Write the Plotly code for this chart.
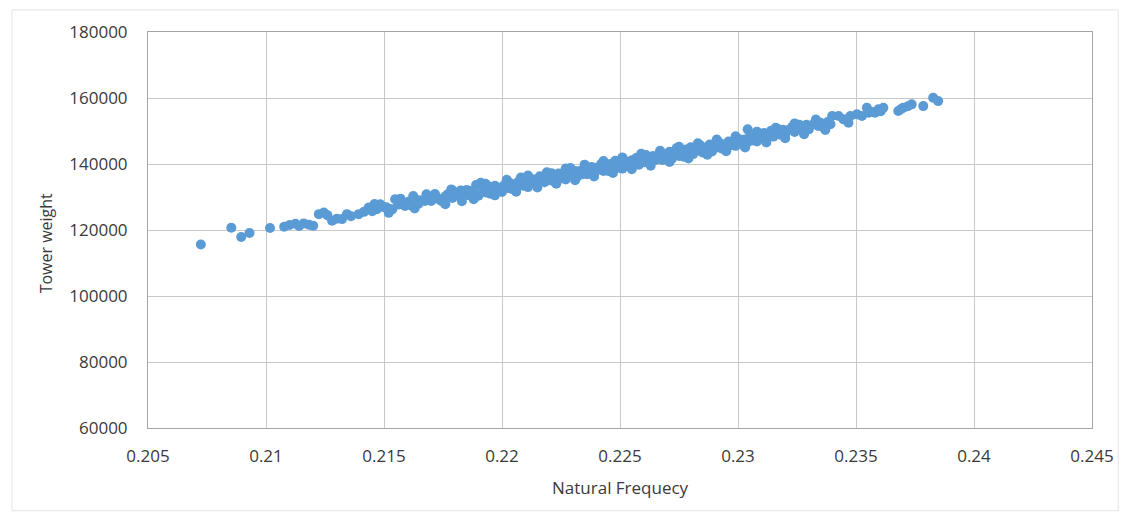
import plotly.graph_objects as go

# Natural frequency (x) and tower weight (y)
freq_left = [0.20724, 0.20853, 0.20895, 0.20930, 0.21017, 0.21077, 0.21100, 0.21125, 0.21140, 0.21160,
             0.21182, 0.21200, 0.21224, 0.21245, 0.21260, 0.21280, 0.21300, 0.21322, 0.21343, 0.21360,
             0.21393, 0.21415, 0.21435, 0.21450, 0.21470, 0.21484, 0.21500, 0.21526, 0.21547, 0.21560,
             0.21575, 0.21589, 0.21605, 0.21624, 0.21645, 0.21660, 0.21673, 0.21690, 0.21716, 0.21730,
             0.21743, 0.21760, 0.21785, 0.21800, 0.21815, 0.21830, 0.21845,
             0.21510, 0.21535, 0.21595, 0.21615, 0.21650, 0.21700, 0.21720, 0.21750, 0.21770, 0.21790,
             0.21810, 0.21825, 0.21850, 0.21860]
weight_left = [115600, 120700, 117900, 119100, 120600, 121000, 121500, 121900, 121200, 122000,
               121600, 121300, 124800, 125300, 124500, 122800, 123400, 123300, 124800, 124200,
               124800, 125500, 126800, 125700, 126300, 127800, 126900, 126400, 129300, 127700,
               128200, 127300, 128600, 130300, 127900, 128900, 128800, 129600, 130900, 129400,
               128800, 130200, 132300, 131000, 130600, 131800, 131300,
               126900, 126200, 127900, 127400, 129000, 128800, 130000, 129400, 130800, 129700,
               131000, 132000, 132100, 130500]

freq_mid1 = [0.2186, 0.2187, 0.2188, 0.2189, 0.2190, 0.2191, 0.2192, 0.2193, 0.2194, 0.2195,
             0.2196, 0.2197, 0.2198, 0.2199, 0.2200, 0.2201, 0.2202, 0.2203, 0.2204, 0.2205,
             0.2206, 0.2207, 0.2208, 0.2209, 0.2210, 0.2211, 0.2212, 0.2213, 0.2214, 0.2215,
             0.2216, 0.2217, 0.2218, 0.2219, 0.2220, 0.2221, 0.2222, 0.2223, 0.2224, 0.2225,
             0.2226, 0.2227, 0.2228, 0.2229, 0.2230, 0.2231, 0.2232, 0.2233, 0.2234, 0.2235]
weight_mid1 = [131900, 130500, 131500, 133600, 130400, 134300, 132400, 131400, 133400, 131000,
               132600, 133400, 131700, 132800, 131500, 133600, 132700, 134400, 132500, 133900,
               132400, 134700, 135900, 133400, 134700, 133000, 135600, 134300, 135300, 133900,
               136300, 135200, 134500, 136100, 135100, 137200, 134700, 136300, 137100, 135600,
               136800, 135300, 137900, 138800, 136500, 137900, 136200, 137900, 136900, 138900]

freq_mid2 = [0.2236, 0.2237, 0.2238, 0.2239, 0.2240, 0.2241, 0.2242, 0.2243, 0.2244, 0.2245,
             0.2246, 0.2247, 0.2248, 0.2249, 0.2250, 0.2251, 0.2252, 0.2253, 0.2254, 0.2255,
             0.2256, 0.2257, 0.2258, 0.2259, 0.2260, 0.2261, 0.2262, 0.2263, 0.2264, 0.2265,
             0.2266, 0.2267, 0.2268, 0.2269, 0.2270, 0.2271, 0.2272, 0.2273, 0.2274, 0.2275,
             0.2276, 0.2277, 0.2278, 0.2279, 0.2280, 0.2281, 0.2282, 0.2283, 0.2284, 0.2285,
             0.2286, 0.2287, 0.2288, 0.2289, 0.2290, 0.2291, 0.2292, 0.2293, 0.2294, 0.2295,
             0.2296, 0.2297, 0.2298, 0.2299, 0.2300]
weight_mid2 = [136900, 138200, 139100, 136900, 138900, 138300, 140000, 137900, 139100, 137900,
               140000, 138900, 141000, 138900, 140100, 138600, 141000, 140100, 139300, 141100,
               140200, 141900, 139800, 141400, 140500, 142700, 141100, 140300, 142400, 141200,
               142200, 143700, 141200, 142900, 142100, 143700, 141600, 143200, 144800, 142400,
               143400, 142200, 144400, 143200, 145100, 143000, 144600, 144100, 145700, 143500,
               144900, 144100, 145900, 143800, 145700, 145000, 146500, 144700, 145900, 144800,
               146800, 145700, 146700, 145500, 146800]

freq_right = [0.2301, 0.2302, 0.23041, 0.2303, 0.2304, 0.2305, 0.2306, 0.2307, 0.2308, 0.2309,
              0.2310, 0.2311, 0.2312, 0.2313, 0.2314, 0.2315, 0.2316, 0.2317, 0.2318, 0.2319,
              0.2320, 0.2321, 0.2323, 0.2324, 0.2325, 0.2326, 0.2327, 0.2329, 0.2330, 0.2332,
              0.2334, 0.2335, 0.2336, 0.2338,
              0.23392, 0.23399, 0.23426, 0.23447, 0.23468, 0.23476, 0.23504, 0.23525, 0.23546, 0.23553,
              0.23565, 0.23581, 0.23595, 0.23605, 0.23616, 0.23679, 0.23690, 0.23700, 0.23720, 0.23736,
              0.23785, 0.23827, 0.23848]
weight_right = [147400, 146000, 150500, 147400, 146500, 148200, 147100, 148100, 146800, 148600,
                147900, 149400, 147700, 149100, 150100, 148300, 149300, 150500, 148900, 150400,
                149000, 150200, 151300, 149700, 151000, 151900, 150400, 151900, 150500, 152100,
                151500, 152500, 151200, 152700,
                152040, 154530, 154530, 153530, 152510, 154530, 155040, 154530, 157040, 155530,
                155800, 155530, 156560, 156000, 157040, 156040, 156600, 157040, 157500, 158070,
                157550, 160060, 159060]

# points on the upper and lower fringes of the band
freq_edges = [0.2146, 0.2152, 0.2157, 0.2163, 0.2168, 0.2176, 0.2179, 0.2183,
              0.2188, 0.2193, 0.2197, 0.2202, 0.2206, 0.2211, 0.2215, 0.2219, 0.2223, 0.2227,
              0.2231, 0.2235, 0.2239, 0.2243, 0.2247, 0.2251, 0.2255, 0.2259, 0.2263, 0.2267,
              0.2271, 0.2275, 0.2279, 0.2283, 0.2287, 0.2291, 0.2295, 0.2299, 0.2303, 0.2308,
              0.2312, 0.2316, 0.2320, 0.2324, 0.2328, 0.2333, 0.2337]
weight_edges = [127900, 125200, 129500, 126500, 130800, 127800, 132000, 128700,
                129300, 134000, 130500, 135200, 131600, 136500, 132900, 137500, 134000, 138600,
                135100, 139800, 136200, 140900, 137300, 142000, 138400, 143100, 139500, 144000,
                140600, 145200, 141700, 146300, 142800, 147400, 143900, 148400, 145000, 149800,
                146500, 151000, 147800, 152300, 149000, 153500, 150300]

freq = freq_left + freq_mid1 + freq_mid2 + freq_right + freq_edges
weight = weight_left + weight_mid1 + weight_mid2 + weight_right + weight_edges

x_ticks = [0.205, 0.21, 0.215, 0.22, 0.225, 0.23, 0.235, 0.24, 0.245]
x_tick_labels = ["0.205", "0.21", "0.215", "0.22", "0.225", "0.23", "0.235", "0.24", "0.245"]
y_ticks = [60000, 80000, 100000, 120000, 140000, 160000, 180000]
y_tick_labels = ["60000", "80000", "100000", "120000", "140000", "160000", "180000"]

FONT = "Open Sans"
TXT = "#3A3A3A"
GRID = "#C8C8C8"

# page body has an 8px margin: figure coords = screen coords - 8
W, H = 1118, 504
L, R, T, B = 140, 1090.6, 22.7, 420
PW, PH = R - L, B - T

fig = go.Figure()
fig.add_trace(go.Scatter(
    x=freq, y=weight, mode="markers",
    marker=dict(size=10, color="#5B9BD5", line=dict(width=0)),
    showlegend=False, hoverinfo="x+y",
))

fig.update_layout(
    width=W, height=H,
    margin=dict(l=L, r=W - R, t=T, b=H - B),
    paper_bgcolor="white", plot_bgcolor="white",
    font=dict(family=FONT, size=17, color=TXT),
    xaxis=dict(
        range=[0.205, 0.245], tickvals=x_ticks, ticktext=x_tick_labels,
        showgrid=True, gridcolor=GRID, gridwidth=1,
        showline=True, linecolor="#A6A6A6", linewidth=1, mirror=True,
        zeroline=False, ticks="outside", ticklen=13, tickcolor="rgba(0,0,0,0)",
        tickfont=dict(family=FONT, size=17, color=TXT),
    ),
    yaxis=dict(
        range=[60000, 180000], tickvals=y_ticks, ticktext=y_tick_labels,
        showgrid=True, gridcolor=GRID, gridwidth=1,
        showline=True, linecolor="#A6A6A6", linewidth=1, mirror=True,
        zeroline=False, ticks="outside", ticklen=16, tickcolor="rgba(0,0,0,0)",
        tickfont=dict(family=FONT, size=17, color=TXT),
    ),
    annotations=[
        dict(text="Natural Frequecy", xref="paper", yref="paper", x=0.5, y=(B - 480) / PH,
             showarrow=False, xanchor="center", yanchor="middle",
             font=dict(family=FONT, size=17, color=TXT)),
        dict(text="Tower weight", xref="paper", yref="paper", x=(37 - L) / PW, y=(B - 235) / PH,
             showarrow=False, xanchor="center", yanchor="middle", textangle=-90,
             font=dict(family=FONT, size=16, color=TXT)),
    ],
    shapes=[
        dict(type="rect", xref="paper", yref="paper",
             x0=(3 - L) / PW, x1=(1117 - L) / PW,
             y0=(B - 503) / PH, y1=(B - 0.5) / PH,
             line=dict(color="#E3E3E3", width=1), fillcolor="rgba(0,0,0,0)", layer="below"),
    ],
)

fig.write_html("out.html")
